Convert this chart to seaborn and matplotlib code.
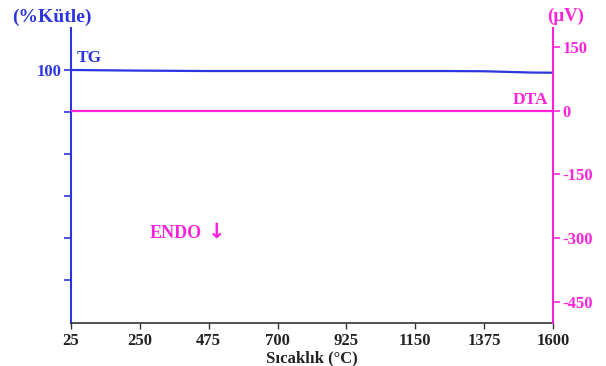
import matplotlib
matplotlib.use("Agg")
import matplotlib.pyplot as plt
import seaborn as sns
import pandas as pd

temp = [25, 250, 475, 700, 925, 1150, 1250, 1375, 1450, 1525, 1600]
tg = [100.0, 99.7, 99.5, 99.5, 99.5, 99.5, 99.5, 99.4, 99.1, 98.8, 98.7]
dta = [0, 0, 0, 0, 0, 0, 0, 0, 0, 0, 0]
xticks = [25, 250, 475, 700, 925, 1150, 1375, 1600]
right_ticks = [150, 0, -150, -300, -450]

BLUE = "#2b35e0"
PINK = "#ff22dd"

sns.set_style("white")
plt.rcParams['font.family'] = ['Liberation Serif', 'DejaVu Serif']
plt.rcParams['font.weight'] = 'bold'

df = pd.DataFrame({"T": temp, "TG": tg, "DTA": dta})

fig = plt.figure(figsize=(6.06, 3.66), dpi=100)
ax = fig.add_axes([71/606, 1-323/366, (553-71)/606, (323-28)/366])
ax2 = ax.twinx()

sns.lineplot(data=df, x="T", y="TG", ax=ax, color=BLUE, linewidth=1.6)
sns.lineplot(data=df, x="T", y="DTA", ax=ax2, color=PINK, linewidth=1.6)

ax.set_xlim(25, 1600)
ax.set_ylim(-20.5, 120)
ax2.set_ylim(-500, 195)

ax.set_xticks(xticks)
ax.set_xticklabels([str(v) for v in xticks], fontsize=12, fontweight='bold', color='#222222')
ax.set_yticks([100, 80, 60, 40, 20, 0])
ax.set_yticklabels(["100", "", "", "", "", ""], fontsize=12, fontweight='bold', color=BLUE)
ax2.set_yticks(right_ticks)
ax2.set_yticklabels([str(v) for v in right_ticks], fontsize=12, fontweight='bold', color=PINK)

ax.set_ylabel("")
ax2.set_ylabel("")
ax.set_xlabel("")

for a in (ax, ax2):
    a.spines['top'].set_visible(False)
ax.spines['right'].set_visible(False)
ax.spines['left'].set_color(BLUE)
ax.spines['left'].set_linewidth(1.5)
ax.spines['bottom'].set_color('#333333')
ax.spines['bottom'].set_linewidth(1.2)
ax2.spines['left'].set_visible(False)
ax2.spines['bottom'].set_visible(False)
ax2.spines['right'].set_color(PINK)
ax2.spines['right'].set_linewidth(1.5)

ax.tick_params(axis='x', direction='out', length=4, width=1, color='#333333', pad=3, bottom=True)
ax.tick_params(axis='y', direction='out', length=5, width=1.2, color=BLUE, pad=2, left=True)
ax2.tick_params(axis='y', direction='out', length=5, width=1.2, color=PINK, pad=2, right=True)

fig.text(312/606, 4/366, "Sıcaklık (°C)", fontsize=12, fontweight='bold', color='#222222',
         va='baseline', ha='center')
fig.text(12/606, 1-17/366, "(%Kütle)", fontsize=14, fontweight='bold', color=BLUE, va='center', ha='left')
fig.text(566/606, 1-16/366, "(µV)", fontsize=13.5, fontweight='bold', color=PINK, va='center', ha='center')
fig.text(77/606, 1-58/366, "TG", fontsize=12.5, fontweight='bold', color=BLUE, va='center', ha='left')
fig.text(548/606, 1-100/366, "DTA", fontsize=12.5, fontweight='bold', color=PINK, va='center', ha='right')
fig.text(150/606, 1-233/366, "ENDO", fontsize=13, fontweight='bold', color=PINK, va='center', ha='left')
fig.text(217/606, 1-232/366, "↓", fontsize=15, fontweight='bold', color=PINK, va='center', ha='center',
         family=['DejaVu Sans'])

fig.savefig("out.png", dpi=100, facecolor='white')
